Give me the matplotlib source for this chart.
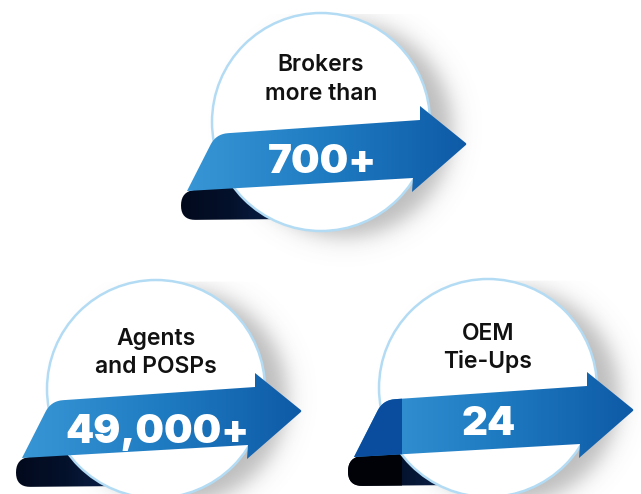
import numpy as np, matplotlib; matplotlib.use("Agg")
import matplotlib.pyplot as plt
from matplotlib.patches import Circle, Polygon
from matplotlib.colors import LinearSegmentedColormap

# --- 数据 ---
labels = ["Brokers\nmore than", "Agents\nand POSPs", "OEM\nTie-Ups"]
values = ["700+", "49,000+", "24"]

# --- 布局 (像素坐标, y 向下) ---
centers = [(321, 122), (156, 389), (488, 388)]
R = 109
label_base = [(-51, -22), (-44, -16), (-48, -20)]   # 两行文字基线 (相对圆心)
value_base = [51, 54, 47]
fold = [False, False, True]

W, H = 641, 494
fig = plt.figure(figsize=(W/100, H/100), dpi=100)
ax = fig.add_axes([0, 0, 1, 1])
ax.axis('off')

blue = LinearSegmentedColormap.from_list('b', ['#3a97d6', '#1f7cc2', '#0e5aa7'])
dark = LinearSegmentedColormap.from_list('d', ['#02081a', '#04112b', '#0b2552'])

def round_poly(pts, radii, n=10):
    # 顶点倒圆角 (二次贝塞尔)
    pts = np.asarray(pts, float); out = []
    m = len(pts)
    for i in range(m):
        p, r = pts[i], radii[i]
        if r <= 0: out.append(p); continue
        a, b = pts[i-1], pts[(i+1) % m]
        u = (a-p)/np.linalg.norm(a-p); v = (b-p)/np.linalg.norm(b-p)
        s, e = p+u*r, p+v*r
        for t in np.linspace(0, 1, n):
            out.append((1-t)**2*s + 2*(1-t)*t*p + t**2*e)
    return np.array(out)

def grad_fill(poly, cmap, z, x0, x1):
    patch = Polygon(poly, closed=True, fc='none', ec='none', zorder=z)
    ax.add_patch(patch)
    g = np.linspace(0, 1, 256)[None, :]
    im = ax.imshow(g, cmap=cmap, extent=(x0, x1, poly[:, 1].max()+2, poly[:, 1].min()-2),
                   aspect='auto', zorder=z, interpolation='bilinear')
    im.set_clip_path(patch)
    return patch

# --- 阴影 ---
yy, xx = np.mgrid[0:H, 0:W] + 0.5
alpha = np.zeros((H, W))
for cx, cy in centers:
    d = np.hypot(xx-(cx+24), yy-(cy+8))
    a = 0.42*0.5*(1-np.tanh((d-R+2)/13))
    a[yy < cy-R+2] = 0
    alpha = np.maximum(alpha, a)
sh = np.zeros((H, W, 4)); sh[..., :3] = 0.38; sh[..., 3] = alpha
ax.imshow(sh, extent=(0, W, H, 0), zorder=0, aspect='auto')

arrow_rel = [(-105, 12), (99, -2), (99, -16), (146, 22), (91, 70), (92, 56), (-134, 69)]
arrow_r = [12, 0, 0, 2, 0, 0, 0]
curl_rel = [(-140, 69), (-140, 98), (-30, 97), (-30, 60)]
curl_r = [14.5, 14.5, 0, 0]

for (cx, cy), lab, val, lb, vb, fd in zip(centers, labels, values, label_base, value_base, fold):
    c = np.array([cx, cy])
    curl = round_poly(np.array(curl_rel)+c, curl_r)
    cp = grad_fill(curl, dark, 1, cx-150, cx-30)
    if fd:
        r = Polygon([(cx-160, cy+40), (cx-86, cy+40), (cx-86, cy+110), (cx-160, cy+110)],
                    fc='#010208', ec='none', zorder=1.5)
        ax.add_patch(r); r.set_clip_path(cp)
    ax.add_patch(Circle((cx, cy), R, fc='white', ec='#b3dcf4', lw=1.8, zorder=2))
    arr = round_poly(np.array(arrow_rel)+c, arrow_r)
    ap = grad_fill(arr, blue, 3, cx-140, cx+146)
    if fd:
        r = Polygon([(cx-160, cy-30), (cx-86, cy-30), (cx-86, cy+110), (cx-160, cy+110)],
                    fc='#0a4c9e', ec='none', zorder=3.5)
        ax.add_patch(r); r.set_clip_path(ap)
    for line, b in zip(lab.split("\n"), lb):
        ax.text(cx, cy+b, line, ha='center', va='baseline', fontsize=16.5, family='Inter',
                fontweight=600, color='#111111', zorder=5)
    ax.text(cx+1, cy+vb, val, ha='center', va='baseline', fontsize=29, family='Inter',
            fontweight=900, color='white', zorder=5)

ax.set_xlim(0, W); ax.set_ylim(H, 0)
fig.savefig('out.png', dpi=100)
